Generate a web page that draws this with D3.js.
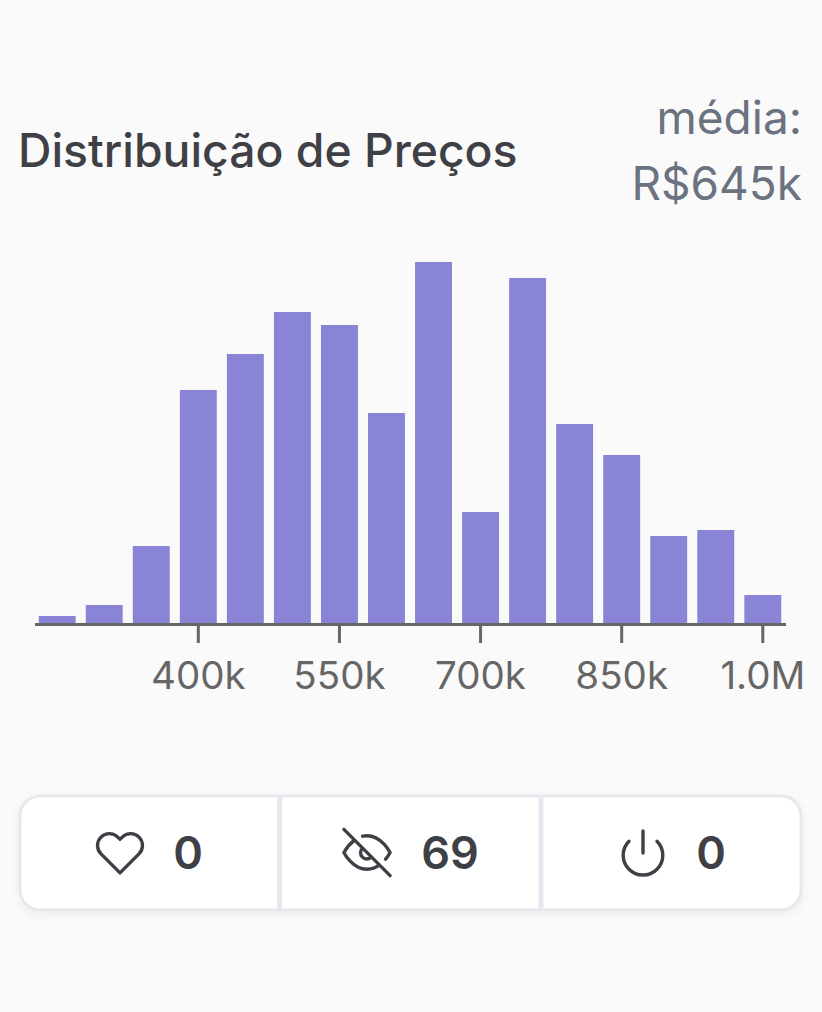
<!DOCTYPE html>
<html lang="pt-BR">
<head>
<meta charset="UTF-8">
<title>Distribuição de Preços</title>
<script src="https://d3js.org/d3.v7.min.js"></script>
<style>
    html, body { margin: 0; padding: 0; background: #fafafa; }
    svg { display: block; font-family: Inter, "Noto Sans", sans-serif; }
    .tick text { font-family: Inter, "Noto Sans", sans-serif; font-size: 38.5px; fill: #666; }
    .tick line, .domain { stroke: #666; stroke-width: 3px; }
    .icon { fill: none; stroke: #3f3f46; stroke-linecap: round; stroke-linejoin: round; }
</style>
</head>
<body>
<div id="chart"></div>
<script>
// bins in thousands of R$, heights
const bins = [250, 300, 350, 400, 450, 500, 550, 600, 650, 700, 750, 800, 850, 900, 950, 1000];
const counts = [8, 19, 78, 234, 270, 312, 299, 211, 362, 112, 346, 200, 169, 88, 94, 29];
const tickBins = [400, 550, 700, 850, 1000];
const tickLabels = ["400k", "550k", "700k", "850k", "1.0M"];
const buttonValues = ["0", "69", "0"];

const svg = d3.select("#chart").append("svg")
    .attr("width", 822)
    .attr("height", 1012);

const defs = svg.append("defs");
const shadow = defs.append("filter").attr("id", "shadow")
    .attr("x", "-5%").attr("y", "-20%").attr("width", "110%").attr("height", "140%");
shadow.append("feDropShadow")
    .attr("dx", 0).attr("dy", 3).attr("stdDeviation", 4)
    .attr("flood-color", "#000").attr("flood-opacity", 0.06);

// header
svg.append("text")
    .attr("x", 18).attr("y", 167)
    .attr("font-size", 46.3).attr("font-weight", 500).attr("fill", "#3f3f46")
    .text("Distribuição de Preços");
svg.append("text")
    .attr("x", 802).attr("y", 134).attr("text-anchor", "end")
    .attr("font-size", 46).attr("fill", "#6b7280")
    .text("média:");
svg.append("text")
    .attr("x", 802).attr("y", 200).attr("text-anchor", "end")
    .attr("font-size", 46).attr("fill", "#6b7280")
    .text("R$645k");

// histogram
const x = d3.scaleBand().domain(bins).range([34.5, 785.5]).paddingInner(0.215).paddingOuter(0.09);
const y = d3.scaleLinear().domain([0, d3.max(counts)]).range([624, 262]);

svg.selectAll(".bar")
    .data(bins)
    .enter()
    .append("rect")
    .attr("class", "bar")
    .attr("x", d => x(d))
    .attr("y", (d, i) => y(counts[i]))
    .attr("width", x.bandwidth())
    .attr("height", (d, i) => y(0) - y(counts[i]))
    .attr("fill", "#8a84d6");

svg.append("g")
    .attr("transform", "translate(0,624)")
    .call(d3.axisBottom(x)
        .tickValues(tickBins)
        .tickSize(19)
        .tickSizeOuter(0)
        .tickPadding(19)
        .tickFormat((d, i) => tickLabels[i]));

// button strip
const cardX = 20, cardY = 796, cardW = 781, cardH = 114;
svg.append("rect")
    .attr("x", cardX).attr("y", cardY)
    .attr("width", cardW).attr("height", cardH)
    .attr("rx", 20)
    .attr("fill", "#fff").attr("stroke", "#e5e9ee").attr("stroke-width", 3)
    .attr("filter", "url(#shadow)");

[279.5, 541].forEach(dx => {
    svg.append("line")
        .attr("x1", dx).attr("x2", dx)
        .attr("y1", cardY).attr("y2", cardY + cardH)
        .attr("stroke", "#e5e9ee").attr("stroke-width", 5);
});

const icons = [
    "M20.84 4.61a5.5 5.5 0 0 0-7.78 0L12 5.67l-1.06-1.06a5.5 5.5 0 0 0-7.78 7.78l1.06 1.06L12 21.23l7.78-7.78 1.06-1.06a5.5 5.5 0 0 0 0-7.78z",
    "M17.94 17.94A10.07 10.07 0 0 1 12 20c-7 0-11-8-11-8a18.45 18.45 0 0 1 5.06-5.94M9.9 4.24A9.12 9.12 0 0 1 12 4c7 0 11 8 11 8a18.5 18.5 0 0 1-2.16 3.19m-6.72-1.07a3 3 0 1 1-4.24-4.24M1 1l22 22",
    "M18.36 6.64a9 9 0 1 1-12.73 0M12 2v10"
];
const iconPos = [[120, 853], [367, 852.5], [643, 853]];
const iconScale = [2.15, 2.1, 2.2];
const textPos = [188, 450, 711];

icons.forEach((p, i) => {
    const s = iconScale[i];
    svg.append("path")
        .attr("class", "icon")
        .attr("d", p)
        .attr("transform", `translate(${iconPos[i][0] - 12 * s},${iconPos[i][1] - 12 * s}) scale(${s})`)
        .style("stroke-width", 3.4 / s);
    svg.append("text")
        .attr("x", textPos[i]).attr("y", 869).attr("text-anchor", "middle")
        .attr("font-size", 45).attr("font-weight", 600).attr("fill", "#3f3f46")
        .text(buttonValues[i]);
});
</script>
</body>
</html>
